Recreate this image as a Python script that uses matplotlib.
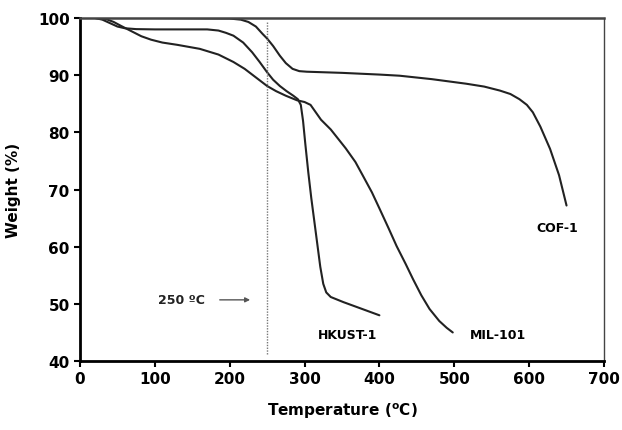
import matplotlib
matplotlib.use("Agg")
import matplotlib.pyplot as plt

# TGA traces (temperature in degC, weight in %)
cof_t = [20, 100, 200, 215, 225, 235, 244, 250, 258, 267, 275, 284, 293, 303, 350, 400, 427,
         470, 516, 540, 561, 575, 587, 597, 605, 615, 628, 640, 650]
cof_w = [100, 100, 99.9, 99.7, 99.3, 98.5, 97.2, 96.4, 95.1, 93.4, 92.1, 91.1, 90.7, 90.6, 90.4, 90.1, 89.9,
         89.3, 88.5, 88.0, 87.3, 86.7, 85.8, 84.8, 83.5, 81.0, 77.1, 72.5, 67.2]

hkust_t = [20, 30, 40, 50, 60, 75, 100, 170, 185, 195, 205, 218, 230, 240, 250, 258, 267, 276, 285,
           291, 295, 298, 301, 305, 309, 313, 317, 321, 325, 329, 335, 352, 375, 400]
hkust_w = [100, 99.7, 99.1, 98.5, 98.2, 98.05, 98, 98, 97.8, 97.4, 96.9, 95.7, 94, 92.3, 90.5, 89.2, 88.1, 87.2, 86.4,
           85.8, 84.8, 82, 78, 73, 68.5, 64.5, 60.5, 56.5, 53.5, 52, 51.2, 50.3, 49.2, 48]

mil_t = [20, 35, 45, 55, 70, 82, 95, 110, 130, 160, 185, 205, 220, 235, 250, 262, 275, 290, 300, 308,
         315, 322, 335, 355, 368, 378, 390, 400, 412, 423, 435, 445, 456, 467, 480, 490, 498]
mil_w = [100, 99.8, 99.3, 98.6, 97.6, 96.8, 96.2, 95.7, 95.3, 94.6, 93.6, 92.3, 91.1, 89.6, 88.1, 87.2, 86.4, 85.6, 85.3, 84.8,
         83.5, 82.2, 80.5, 77.2, 74.8, 72.4, 69.5, 66.7, 63.3, 60.1, 57, 54.3, 51.5, 49.1, 47, 45.8, 45]

labels = ["COF-1", "HKUST-1", "MIL-101"]
xticks = [0, 100, 200, 300, 400, 500, 600, 700]
yticks = [40, 50, 60, 70, 80, 90, 100]
cutoff = 250

fig = plt.figure(figsize=(6.22, 4.31), dpi=100)
ax = fig.add_axes([0.1286, 0.160, 0.8424, 0.796])

for t, w in [(cof_t, cof_w), (hkust_t, hkust_w), (mil_t, mil_w)]:
    ax.plot(t, w, color="#222222", lw=1.5, solid_joinstyle="round", solid_capstyle="round")

ax.vlines(cutoff, 41.2, 99.3, colors="#777777", linestyles=(0, (1, 1)), lw=1.0)
ax.annotate("", xy=(231, 50.7), xytext=(183, 50.7),
            arrowprops=dict(arrowstyle="-|>", color="#555555", lw=1.0,
                            mutation_scale=7))
ax.text(136, 50.7, "250 ºC", ha="center", va="center", fontsize=9,
        fontweight="bold", color="#222222")

ax.text(358, 44.7, labels[1], ha="center", va="center", fontsize=9, fontweight="bold")
ax.text(559, 44.7, labels[2], ha="center", va="center", fontsize=9, fontweight="bold")
ax.text(638, 63.3, labels[0], ha="center", va="center", fontsize=9, fontweight="bold")

ax.set_xlim(0, 700)
ax.set_ylim(40, 100)
ax.set_xticks(xticks)
ax.set_yticks(yticks)
ax.tick_params(direction="out", length=4, width=1.5, labelsize=11)
for lab in ax.get_xticklabels() + ax.get_yticklabels():
    lab.set_fontweight("bold")

ax.spines["left"].set_linewidth(2.0)
ax.spines["bottom"].set_linewidth(2.0)
ax.spines["top"].set_linewidth(1.8)
ax.spines["top"].set_color("#444444")
ax.spines["right"].set_linewidth(1.0)
ax.spines["right"].set_color("#444444")

ax.set_xlabel(r"Temperature ($^{\mathbf{o}}$C)", fontsize=11, fontweight="bold", labelpad=10)
ax.set_ylabel("Weight (%)", fontsize=11, fontweight="bold", labelpad=12)

fig.savefig("out.png", dpi=100)
